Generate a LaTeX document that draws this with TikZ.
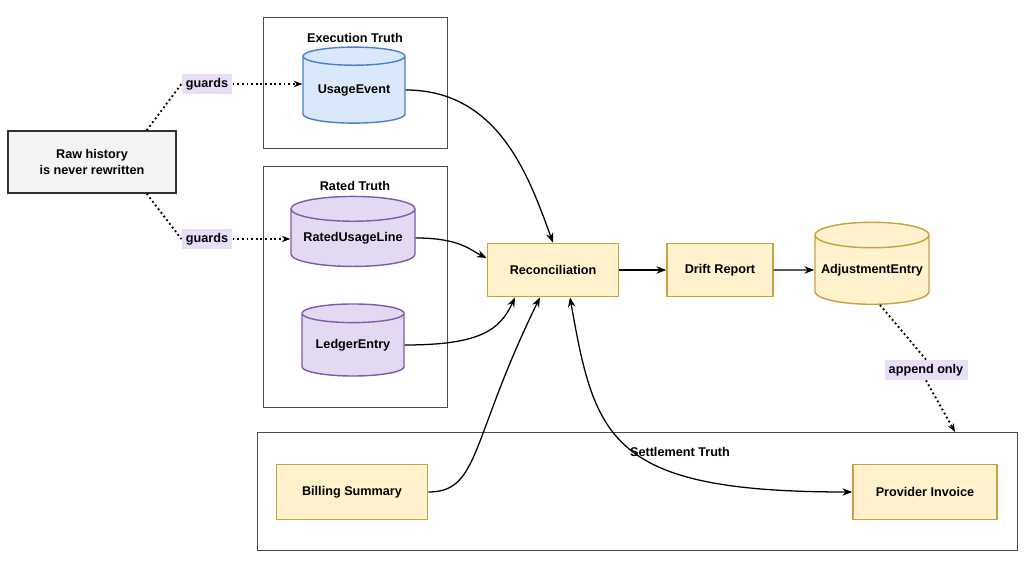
\documentclass[tikz,border=0pt]{standalone}
\usepackage{fontspec}
\setmainfont{Liberation Sans}
\usetikzlibrary{shapes.geometric,arrows.meta}
\definecolor{bF}{HTML}{DAE8FC}\definecolor{bS}{HTML}{4A7FD0}
\definecolor{pF}{HTML}{E4D9F2}\definecolor{pS}{HTML}{7F5AA8}
\definecolor{yF}{HTML}{FFF2CC}\definecolor{yS}{HTML}{C9A13E}
\definecolor{gF}{HTML}{F3F4F6}\definecolor{lF}{HTML}{E8DEF8}
\tikzset{
 grp/.style={draw=black!70,line width=0.6pt},
 ttl/.style={font=\bfseries\small},
 cyl/.style={cylinder,shape border rotate=90,aspect=0.25,draw,line width=1pt,font=\bfseries\small,inner sep=0pt},
 ybox/.style={draw=yS,fill=yF,line width=1pt,font=\bfseries\small,minimum height=1.33cm},
 lbl/.style={fill=lF,font=\bfseries\small,inner sep=3pt},
 arr/.style={-{Stealth[length=7pt]},line width=0.9pt},
 dot/.style={dotted,line width=1.3pt},
}
\begin{document}
\begin{tikzpicture}[x=0.025cm,y=-0.025cm]
\useasboundingbox (0,0) rectangle (1024,563);
\draw[grp] (263,17) rectangle (447,148);
\node[ttl] (t1) at (355,38) {Execution Truth};
\draw[grp] (263,166) rectangle (447,407);
\node[ttl] (t2) at (355,186) {Rated Truth};
\draw[grp] (257,432) rectangle (1017,550);
\node[ttl] (t3) at (680,452) {Settlement Truth};
\coordinate (stop) at (955,432);

\node[cyl,draw=bS,fill=bF,minimum width=2.55cm,minimum height=1.9cm] (ue) at (354,90) {UsageEvent};
\node[cyl,draw=pS,fill=pF,minimum width=3.1cm,minimum height=1.75cm] (rul) at (353,238) {RatedUsageLine};
\node[cyl,draw=pS,fill=pF,minimum width=2.55cm,minimum height=1.8cm] (le) at (353,345) {LedgerEntry};
\node[cyl,draw=yS,fill=yF,minimum width=2.85cm,minimum height=2.05cm] (ae) at (872,270) {AdjustmentEntry};

\node[draw=black!80,fill=gF,line width=1pt,font=\bfseries\small,align=center,minimum width=4.2cm,minimum height=1.55cm] (raw) at (92,162) {Raw history\\is never rewritten};
\node[lbl] (g1) at (207,84) {guards};
\node[lbl] (g2) at (207,239) {guards};
\node[lbl] (ap) at (926,370) {append only};

\node[ybox,minimum width=3.28cm] (rec) at (553,270) {Reconciliation};
\node[ybox,minimum width=2.65cm] (dr) at (720,270) {Drift Report};
\node[ybox,minimum width=3.78cm,minimum height=1.38cm] (bs) at (352,492) {Billing Summary};
\node[ybox,minimum width=3.6cm,minimum height=1.38cm] (pi) at (925,492) {Provider Invoice};

\draw[dot] (raw.north east)++(-30,0) -- (g1.west);
\draw[dot,-{Stealth[length=6pt]}] (g1.east) -- (ue.west|-g1.east);
\draw[dot] (raw.south east)++(-30,0) -- (g2.west);
\draw[dot,-{Stealth[length=6pt]}] (g2.east) -- (rul.west|-g2.east);
\draw[arr] (ue.east) .. controls (500,90) and (530,180) .. (rec.north);
\draw[arr] (rul.east) .. controls (460,238) and (470,250) .. (rec.west|-0,258);
\draw[arr] (le.east) .. controls (480,345) and (500,330) .. (rec.south-|515,0);
\draw[arr] (bs.east) .. controls (480,492) and (470,440) .. (rec.south-|540,0);
\draw[{Stealth[length=7pt]}-{Stealth[length=7pt]},line width=0.9pt] (rec.south-|570,0) .. controls (595,440) and (610,492) .. (pi.west);
\draw[arr] (rec) -- (dr);
\draw[arr] (dr) -- (ae);
\draw[dot] (ae.bottom)++(8,0) -- (ap.north);
\draw[dot,-{Stealth[length=6pt]}] (ap.south) -- (stop);
\end{tikzpicture}
\end{document}
